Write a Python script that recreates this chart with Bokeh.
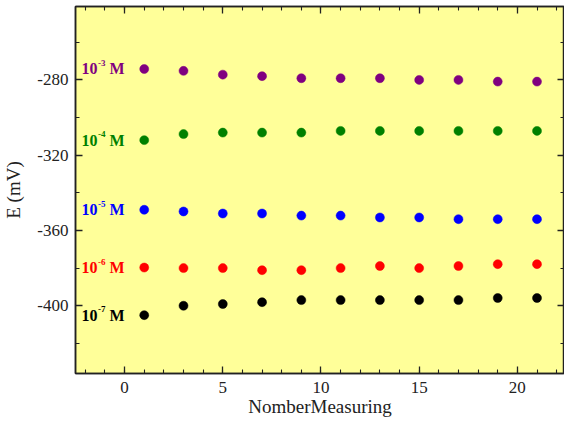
from bokeh.plotting import figure
from bokeh.models import (LinearAxis, SingleIntervalTicker, Range1d, ColumnDataSource,
                          CustomJSTickFormatter)
from bokeh.core.properties import value
from bokeh.embed import file_html
from bokeh.resources import INLINE

# ---- data ----
measure_no = [1, 3, 5, 7, 9, 11, 13, 15, 17, 19, 21]
e_1e3 = [-274.2, -275.2, -277.2, -278.0, -279.1, -279.1, -279.1, -280.0, -280.0, -280.9, -280.9]
e_1e4 = [-312.0, -308.8, -308.0, -308.0, -308.0, -307.1, -307.1, -307.1, -307.1, -307.1, -307.1]
e_1e5 = [-349.0, -349.9, -351.0, -351.0, -352.1, -352.1, -353.1, -353.1, -354.0, -354.0, -354.0]
e_1e6 = [-379.7, -380.0, -380.0, -381.1, -381.1, -380.0, -378.9, -380.0, -378.9, -377.9, -377.9]
e_1e7 = [-405.0, -400.0, -399.1, -398.1, -397.0, -397.0, -397.0, -397.0, -397.0, -395.9, -395.9]
series = [e_1e3, e_1e4, e_1e5, e_1e6, e_1e7]
exponents = ["-3", "-4", "-5", "-6", "-7"]
colors = ["#800080", "#008000", "#0000FF", "#FF0000", "#000000"]
label_x = -2.2

FONT = "Liberation Serif"

p = figure(width=564, height=421, output_backend="svg", toolbar_location=None,
           x_range=Range1d(-2.5, 22.4), y_range=Range1d(-436, -241),
           min_border_left=74, min_border_right=0, min_border_top=6, min_border_bottom=48)
p.background_fill_color = "#FFFF99"
p.border_fill_color = "white"
p.outline_line_color = "#222222"
p.outline_line_width = 1.5
p.grid.visible = False

p.xaxis.ticker = SingleIntervalTicker(interval=5, num_minor_ticks=5)
p.yaxis.ticker = SingleIntervalTicker(interval=40, num_minor_ticks=2)
p.xaxis.axis_label = "NomberMeasuring"
p.yaxis.axis_label = "E (mV)"
p.xaxis.formatter = CustomJSTickFormatter(code="return tick.toFixed(0);")
p.yaxis.formatter = CustomJSTickFormatter(code="return tick.toFixed(0);")

def style_axis(ax):
    ax.axis_line_color = "#222222"
    ax.axis_line_width = 1.5
    ax.major_tick_line_color = "#222222"
    ax.minor_tick_line_color = "#222222"
    ax.major_tick_line_width = 1.3
    ax.minor_tick_line_width = 1.1
    ax.major_tick_in = 7
    ax.major_tick_out = 0
    ax.minor_tick_in = 4
    ax.minor_tick_out = 0
    ax.major_label_text_font = FONT
    ax.major_label_text_font_size = "17px"
    ax.major_label_text_color = "#222222"
    ax.axis_label_text_font = FONT
    ax.axis_label_text_font_size = "19px"
    ax.axis_label_text_font_style = "normal"
    ax.axis_label_text_color = "#222222"

style_axis(p.xaxis[0])
style_axis(p.yaxis[0])
p.xaxis.major_label_standoff = 8
p.xaxis.axis_label_standoff = 0
p.yaxis.major_label_standoff = 7
p.yaxis.axis_label_standoff = 10

top = LinearAxis(ticker=SingleIntervalTicker(interval=5, num_minor_ticks=5),
                 formatter=CustomJSTickFormatter(code="return '';"))
right = LinearAxis(ticker=SingleIntervalTicker(interval=40, num_minor_ticks=2),
                   formatter=CustomJSTickFormatter(code="return '';"))
for ax in (top, right):
    style_axis(ax)
    ax.major_label_standoff = 0
p.add_layout(top, "above")
p.add_layout(right, "right")

for vals, col in zip(series, colors):
    src = ColumnDataSource(dict(x=measure_no, y=vals))
    p.scatter("x", "y", source=src, size=9, fill_color=col, line_color=col, line_width=0.5)

# labels "10^-n M"
first_vals = [s[0] for s in series]
lsrc = ColumnDataSource(dict(x=[label_x] * len(first_vals), y=first_vals,
                             base=["10"] * len(first_vals), sup=exponents,
                             unit=["M"] * len(first_vals), color=colors))
p.text("x", "y", text="base", source=lsrc, text_color="color", text_font=value(FONT),
       text_font_size="16px", text_font_style="bold", text_baseline="middle", text_align="left")
p.text("x", "y", text="sup", source=lsrc, text_color="color", text_font=value(FONT),
       text_font_size="9px", text_font_style="bold", text_baseline="middle", text_align="left",
       x_offset=16.5, y_offset=-6)
p.text("x", "y", text="unit", source=lsrc, text_color="color", text_font=value(FONT),
       text_font_size="16px", text_font_style="bold", text_baseline="middle", text_align="left",
       x_offset=28)

open("out.html", "w").write(file_html(p, INLINE))
